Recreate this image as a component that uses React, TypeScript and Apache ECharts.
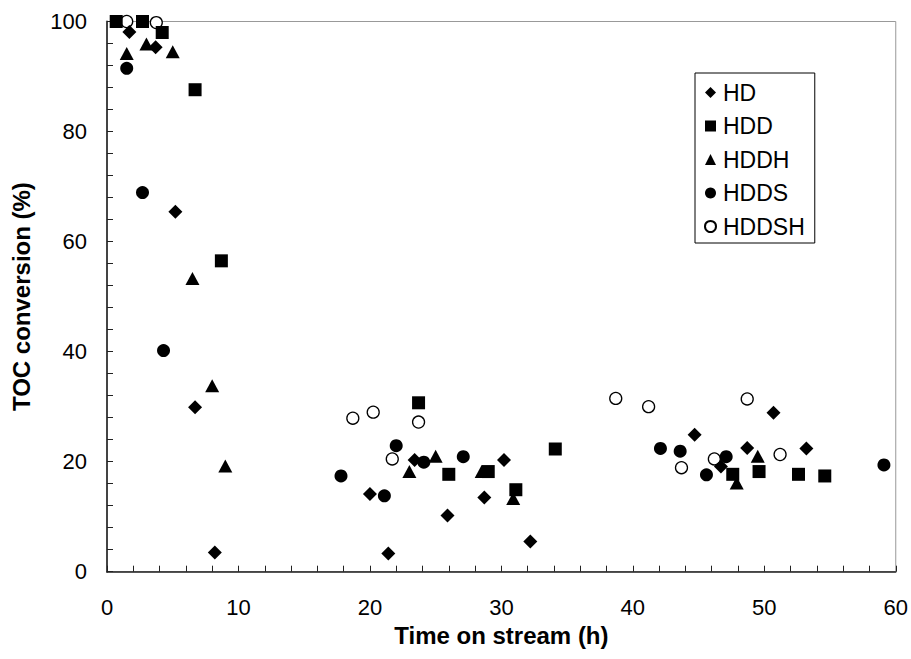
import React, { useEffect, useRef } from "react";
import * as echarts from "echarts";

const hdTime = [1.7, 3.7, 5.2, 6.7, 8.2, 20.0, 21.4, 23.4, 25.9, 28.7, 30.2, 32.2, 44.7, 46.7, 48.7, 50.7, 53.2];
const hdToc = [98.1, 95.3, 65.4, 29.9, 3.5, 14.1, 3.3, 20.3, 10.2, 13.5, 20.3, 5.5, 24.9, 19.1, 22.5, 28.9, 22.4];

const hddTime = [0.7, 2.7, 4.2, 6.7, 8.7, 23.7, 26.0, 29.0, 31.1, 34.1, 47.6, 49.6, 52.6, 54.6];
const hddToc = [100, 100, 98.0, 87.6, 56.5, 30.7, 17.7, 18.2, 14.9, 22.3, 17.7, 18.2, 17.7, 17.4];

const hddhTime = [1.5, 3.0, 5.0, 6.5, 8.0, 9.0, 23.0, 25.0, 28.5, 30.9, 47.9, 49.5];
const hddhToc = [94.2, 95.9, 94.5, 53.3, 33.8, 19.2, 18.2, 21.0, 18.2, 13.3, 16.1, 21.0];

const hddsTime = [1.5, 2.7, 4.3, 17.8, 21.1, 22.0, 24.1, 27.1, 42.1, 43.6, 45.6, 47.1, 59.1];
const hddsToc = [91.5, 68.9, 40.2, 17.4, 13.8, 22.9, 19.9, 20.9, 22.4, 21.9, 17.6, 20.9, 19.4];

const hddshTime = [1.5, 3.75, 18.7, 20.25, 21.7, 23.7, 38.7, 41.2, 43.7, 46.2, 48.7, 51.2];
const hddshToc = [100, 99.8, 27.9, 29.0, 20.5, 27.2, 31.5, 30.0, 18.9, 20.5, 31.4, 21.3];

const seriesNames = ["HD", "HDD", "HDDH", "HDDS", "HDDSH"];
const xTicks = [0, 10, 20, 30, 40, 50, 60];
const yTicks = [0, 20, 40, 60, 80, 100];

const FONT = "'Liberation Sans', Arial, Helvetica, sans-serif";

const zip = (xs: number[], ys: number[]) => xs.map((x, i) => [x, ys[i]]);

export default function App() {
  const ref = useRef<HTMLDivElement>(null);
  useEffect(() => {
    if (!ref.current) return;
    const chart = echarts.init(ref.current, null, { renderer: "svg" });
    const black = { color: "#000", opacity: 1 };
    const defs = [
      { data: zip(hdTime, hdToc), symbol: "diamond", size: 14, style: black },
      { data: zip(hddTime, hddToc), symbol: "rect", size: 13, style: black },
      { data: zip(hddhTime, hddhToc), symbol: "triangle", size: [14, 13], style: black },
      { data: zip(hddsTime, hddsToc), symbol: "circle", size: 13, style: black },
      {
        data: zip(hddshTime, hddshToc),
        symbol: "circle",
        size: 12,
        style: { color: "#fff", borderColor: "#000", borderWidth: 1.3, opacity: 1 },
      },
    ];
    chart.setOption({
      animation: false,
      backgroundColor: "#fff",
      textStyle: { fontFamily: FONT },
      grid: {
        left: 107,
        right: 12,
        top: 21.5,
        bottom: 87.3,
        show: true,
        borderColor: "#999",
        borderWidth: 1,
        backgroundColor: "transparent",
      },
      legend: {
        orient: "vertical",
        left: 695,
        top: 73,
        padding: [8, 10, 5, 9],
        itemGap: 10.5,
        itemWidth: 11,
        itemHeight: 11,
        borderColor: "#000",
        borderWidth: 1,
        backgroundColor: "#fff",
        data: seriesNames,
        textStyle: {
          fontFamily: FONT,
          fontSize: 23,
          color: "#000",
          lineHeight: 22,
          padding: [0, 0, 0, 2],
        },
      },
      xAxis: {
        type: "value",
        min: xTicks[0],
        max: xTicks[xTicks.length - 1],
        interval: 10,
        name: "Time on stream (h)",
        nameLocation: "middle",
        nameGap: 50,
        nameTextStyle: { fontFamily: FONT, fontSize: 24, fontWeight: "bold", color: "#000" },
        axisLine: { show: true, lineStyle: { color: "#222", width: 1.5 } },
        axisTick: { show: true, inside: true, length: 6, lineStyle: { color: "#222" } },
        minorTick: { show: true, splitNumber: 5, length: 6, lineStyle: { color: "#222" } },
        axisLabel: {
          fontFamily: FONT,
          fontSize: 22,
          color: "#000",
          margin: 8,
          padding: [17, 0, 0, 0],
        },
        splitLine: { show: false },
      },
      yAxis: {
        type: "value",
        min: yTicks[0],
        max: yTicks[yTicks.length - 1],
        interval: 20,
        name: "TOC conversion (%)",
        nameLocation: "middle",
        nameGap: 74,
        nameTextStyle: { fontFamily: FONT, fontSize: 24, fontWeight: "bold", color: "#000" },
        axisLine: { show: true, lineStyle: { color: "#444", width: 2 } },
        axisTick: { show: true, inside: true, length: 6, lineStyle: { color: "#222" } },
        minorTick: { show: true, splitNumber: 5, length: 6, lineStyle: { color: "#222" } },
        axisLabel: { fontFamily: FONT, fontSize: 22, color: "#000", margin: 20 },
        splitLine: { show: false },
      },
      series: defs.map((d, i) => ({
        name: seriesNames[i],
        type: "scatter",
        data: d.data,
        symbol: d.symbol,
        symbolSize: d.size,
        itemStyle: d.style,
        clip: false,
        z: 10 - i,
      })),
    });
    return () => chart.dispose();
  }, []);
  return (
    <div
      ref={ref}
      style={{ position: "fixed", left: 0, top: 0, width: 911, height: 659 }}
    />
  );
}
